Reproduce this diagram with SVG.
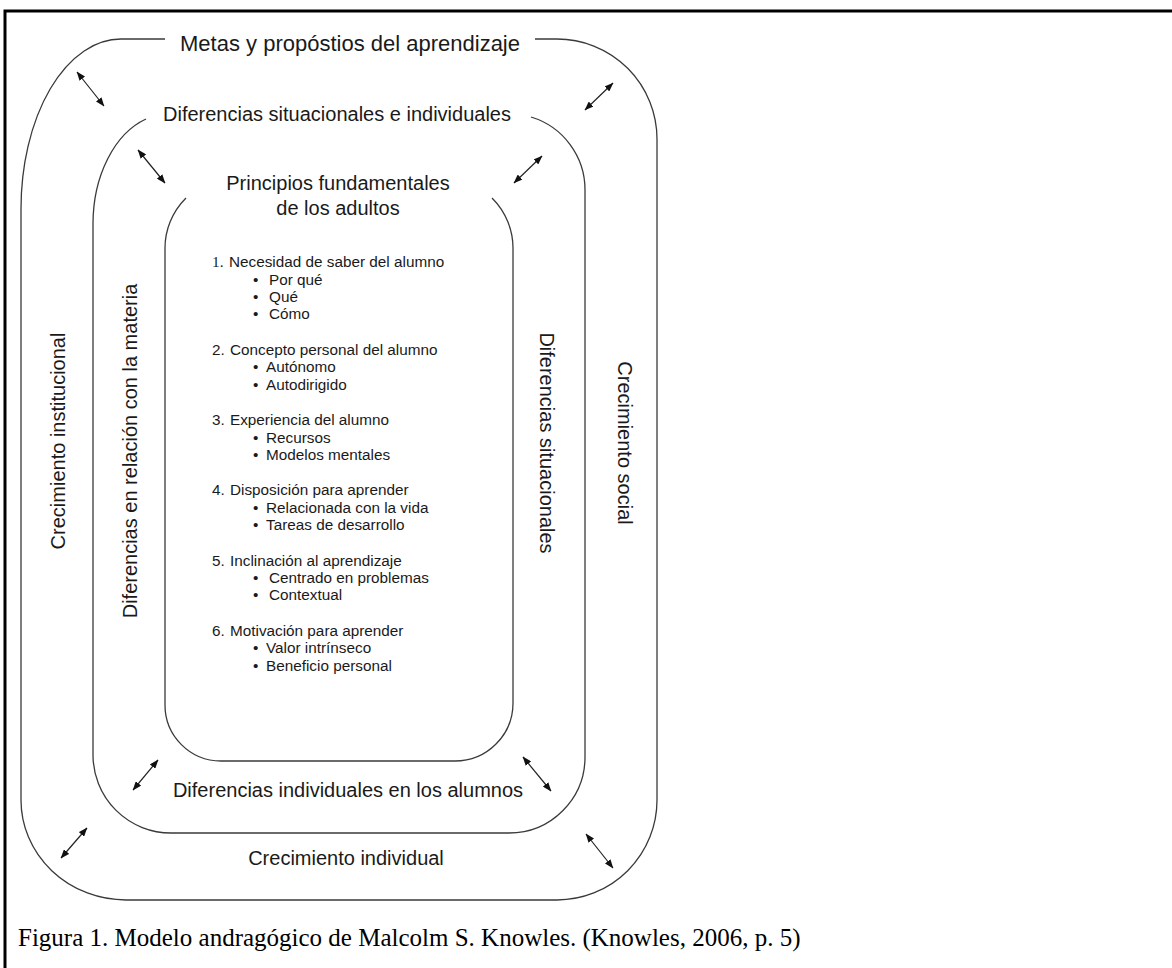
<svg xmlns="http://www.w3.org/2000/svg" width="1172" height="968" viewBox="0 0 1172 968">
<style>
.frame{stroke:#000;stroke-width:3;fill:none}
.ring{fill:none;stroke:#3a3a3a;stroke-width:1.3}
.arr{stroke:#222;stroke-width:1.2;fill:none;marker-start:url(#ah);marker-end:url(#ah)}
.lbl{font-family:"Liberation Sans",Arial,sans-serif;font-size:20px;fill:#1a1a1a}
.lst{font-family:"Liberation Sans",Arial,sans-serif;font-size:15.3px;fill:#1a1a1a}
.cap{font-family:"Liberation Serif","Times New Roman",serif;font-size:25px;fill:#000}
</style>
<defs>
<marker id="ah" markerUnits="userSpaceOnUse" markerWidth="9" markerHeight="7" refX="8.5" refY="3.5" orient="auto-start-reverse">
<path d="M0,0 L9,3.5 L0,7 z" fill="#111"/>
</marker>
</defs>
<rect width="1172" height="968" fill="#fff"/>
<g id="frame">
<path class="frame" d="M5 968 V11 H1172"/>
</g>
<g id="outer">
<path class="ring" d="M165 39 H121 A100 170 0 0 0 21 209 V800 A105 100 0 0 0 126 900 H557 A100 100 0 0 0 657 800 V139 A100 100 0 0 0 557 39 H535"/>
<text class="lbl" x="350" y="51" text-anchor="middle" style="font-size:22px">Metas y propóstios del aprendizaje</text>
<text class="lbl" x="346" y="865" text-anchor="middle">Crecimiento individual</text>
<text class="lbl" transform="translate(58,441) rotate(-90)" x="0" y="7" text-anchor="middle">Crecimiento institucional</text>
<text class="lbl" transform="translate(625,443) rotate(90)" x="0" y="7" text-anchor="middle">Crecimiento social</text>
</g>
<g id="middle">
<path class="ring" d="M146 119 A76 110 0 0 0 93 224 V755 A78 78 0 0 0 171 833 H509 A76 76 0 0 0 585 757 V190 A76 76 0 0 0 531 117"/>
<text class="lbl" x="337" y="121" text-anchor="middle">Diferencias situacionales e individuales</text>
<text class="lbl" x="348" y="797" text-anchor="middle">Diferencias individuales en los alumnos</text>
<text class="lbl" transform="translate(130,451) rotate(-90)" x="0" y="7" text-anchor="middle">Diferencias en relación con la materia</text>
<text class="lbl" transform="translate(547,443) rotate(90)" x="0" y="7" text-anchor="middle">Diferencias situacionales</text>
</g>
<g id="inner">
<path class="ring" d="M186 198 A71 71 0 0 0 165 250 V705 A56 56 0 0 0 221 761 H455 A58 58 0 0 0 513 703 V250 A71 71 0 0 0 492 198"/>
<text class="lbl" x="338" y="190" text-anchor="middle">Principios fundamentales</text>
<text class="lbl" x="338" y="215" text-anchor="middle">de los adultos</text>
<g class="lst">
<text x="212" y="267"><tspan style="font-family:'Liberation Serif',serif">1.</tspan></text><text x="229" y="267">Necesidad de saber del alumno</text>
<text x="253" y="285">•</text><text x="269" y="285">Por qué</text>
<text x="253" y="302">•</text><text x="269" y="302">Qué</text>
<text x="253" y="319">•</text><text x="269" y="319">Cómo</text>
<text x="212" y="355">2.</text><text x="230" y="355">Concepto personal del alumno</text>
<text x="253" y="372">•</text><text x="266" y="372">Autónomo</text>
<text x="253" y="390">•</text><text x="266" y="390">Autodirigido</text>
<text x="212" y="425">3.</text><text x="230" y="425">Experiencia del alumno</text>
<text x="253" y="443">•</text><text x="266" y="443">Recursos</text>
<text x="253" y="460">•</text><text x="266" y="460">Modelos mentales</text>
<text x="212" y="495">4.</text><text x="230" y="495">Disposición para aprender</text>
<text x="253" y="513">•</text><text x="266" y="513">Relacionada con la vida</text>
<text x="253" y="530">•</text><text x="266" y="530">Tareas de desarrollo</text>
<text x="212" y="566">5.</text><text x="230" y="566">Inclinación al aprendizaje</text>
<text x="253" y="583">•</text><text x="269" y="583">Centrado en problemas</text>
<text x="253" y="600">•</text><text x="269" y="600">Contextual</text>
<text x="212" y="636">6.</text><text x="230" y="636">Motivación para aprender</text>
<text x="253" y="653">•</text><text x="266" y="653">Valor intrínseco</text>
<text x="253" y="671">•</text><text x="266" y="671">Beneficio personal</text>
</g>
</g>
<g id="connectors">
<line class="arr" x1="77" y1="72" x2="104" y2="106"/>
<line class="arr" x1="613" y1="83" x2="585" y2="110"/>
<line class="arr" x1="138" y1="150" x2="165" y2="183"/>
<line class="arr" x1="542" y1="156" x2="514" y2="183"/>
<line class="arr" x1="158" y1="760" x2="133" y2="790"/>
<line class="arr" x1="523" y1="757" x2="551" y2="791"/>
<line class="arr" x1="87" y1="828" x2="61" y2="858"/>
<line class="arr" x1="586" y1="834" x2="613" y2="868"/>
</g>
<g id="caption">
<text class="cap" x="18" y="946">Figura 1. Modelo andragógico de Malcolm S. Knowles. (Knowles, 2006, p. 5)</text>
</g>
</svg>
